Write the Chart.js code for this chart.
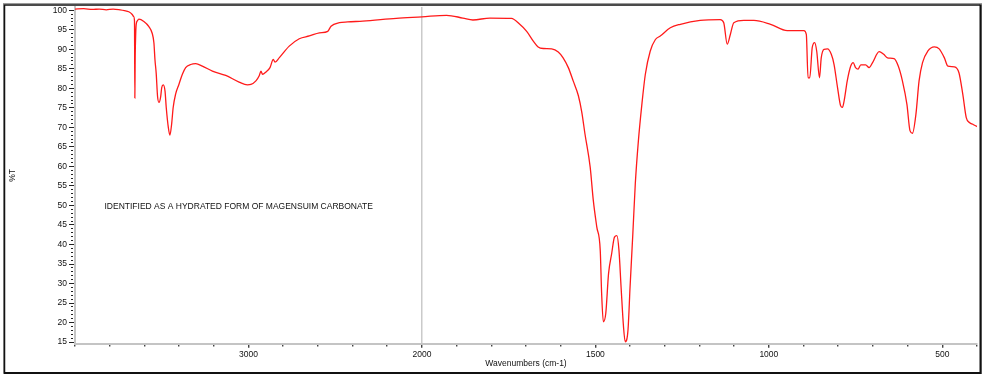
<!DOCTYPE html>
<html>
<head>
<meta charset="utf-8">
<script src="https://cdn.jsdelivr.net/npm/chart.js@4.4.1/dist/chart.umd.min.js"></script>
<style>
  html, body { margin: 0; padding: 0; background: #fff; }
  #wrap { width: 988px; height: 380px; }
</style>
</head>
<body>
<div id="wrap"><canvas id="c" width="988" height="380"></canvas></div>
<script>
// ---------------- data ----------------
const WAVENUMBERS = [
  4000, 3950, 3900, 3860, 3820, 3780, 3740, 3715, 3690, 3670, 3662, 3657, 3655, 3653, 3650, 3647, 3640, 3632,
  3603, 3574, 3555, 3545, 3539, 3532, 3524, 3516, 3506, 3500, 3491, 3481, 3474, 3462, 3453, 3443, 3434, 3420,
  3401, 3381, 3362, 3333, 3304, 3266, 3208, 3131, 3054, 3006, 2986, 2957, 2938, 2928, 2919,
  2899, 2876, 2857, 2847, 2823, 2765, 2707, 2649, 2591, 2543, 2524, 2476, 2428, 2341, 2148, 2000,
  1929, 1882, 1853, 1804, 1742, 1718, 1698, 1679, 1665, 1650, 1626, 1607, 1593, 1578, 1564,
  1549, 1539, 1530, 1515, 1506, 1496, 1486, 1482, 1477, 1470, 1462, 1453, 1445, 1438, 1432,
  1426, 1419, 1414, 1406, 1400, 1392, 1385, 1376, 1366, 1356, 1342, 1327, 1313, 1284, 1255,
  1198, 1140, 1130, 1120, 1111, 1101, 1072, 1043, 995, 947, 899, 892, 887, 882, 875,
  868, 862, 854, 849, 841, 831, 820, 812, 802, 793, 788, 783, 774, 764, 757,
  750, 743, 735, 721, 711, 701, 682, 669, 658, 639, 627, 615, 602, 593, 586,
  576, 567, 557, 542, 523, 509, 494, 484, 465, 452, 441, 431, 421, 412, 400
];
const TRANSMITTANCE = [
  100.3, 100.4, 100.2, 100.3, 100.1, 100.3, 100.1, 99.9, 99.6, 98.9, 98.4, 97.2, 77.5, 88.0, 94.0, 96.4, 97.3, 97.7,
  97.1, 95.8, 94.1, 91.6, 87.3, 83.9, 77.9, 76.4, 77.9, 80.2, 80.9, 79.3, 75.1, 70.0, 68.0, 70.8, 75.1, 78.5,
  81.0, 83.6, 85.3, 86.1, 86.3, 85.7, 84.4, 83.3, 81.6, 80.9, 81.0, 81.9, 83.2, 84.4, 83.6,
  84.2, 85.3, 87.4, 86.7, 87.8, 90.8, 92.7, 93.4, 94.2, 94.6, 95.9, 96.8, 97.0, 97.2, 97.9, 98.3,
  98.7, 98.0, 97.5, 98.0, 97.9, 96.4, 94.6, 92.1, 90.6, 90.2, 90.1, 89.3, 87.8, 85.3, 81.9,
  78.1, 73.8, 68.3, 59.8, 51.3, 44.5, 38.5, 27.5, 20.2, 22.4, 32.6, 37.7, 41.9, 42.3, 38.5,
  29.2, 19.0, 15.1, 18.1, 29.2, 42.8, 55.5, 66.6, 75.9, 83.6, 89.5, 92.5, 93.4, 95.5, 96.4,
  97.4, 97.6, 96.8, 91.3, 93.8, 96.8, 97.4, 97.4, 96.4, 94.8, 94.8, 93.8, 82.7, 82.7, 90.4,
  91.7, 89.5, 82.7, 87.8, 90.0, 90.1, 88.7, 86.1, 80.2, 75.5, 75.1, 76.8, 81.9, 85.7, 86.6,
  85.3, 84.9, 86.0, 86.0, 85.3, 86.6, 89.4, 88.7, 87.8, 87.6, 85.7, 81.9, 75.9, 69.1, 68.5,
  73.4, 81.9, 86.6, 89.5, 90.6, 90.1, 87.8, 85.7, 85.5, 84.0, 78.5, 72.5, 71.2, 70.8, 70.2
];

// axis ticks (wavenumber axis is expanded 2x below 2000 cm-1)
const X_BREAK = 2000;
const X_MIN = 400, X_MAX = 4000;
const X_TICKS_LOW = [400, 500, 600, 700, 800, 900, 1000, 1100, 1200, 1300, 1400, 1500, 1600, 1700, 1800, 1900, 2000];
const X_TICKS_HIGH = [2200, 2400, 2600, 2800, 3000, 3200, 3400, 3600, 3800, 4000];
const X_LABELLED = [500, 1000, 1500, 2000, 3000];
const Y_MIN = 14.6, Y_MAX = 100.8;
const Y_TICKS = Array.from({length: 86}, (_, i) => 15 + i);
const Y_LABEL_STEP = 5;

const X_TITLE = 'Wavenumbers (cm-1)';
const Y_TITLE = '%T';
const NOTE_TEXT = 'IDENTIFIED AS A HYDRATED FORM OF MAGENSUIM CARBONATE';
const NOTE_AT = {w: 3830, t: 49.8};

// ---------------- custom broken wavenumber scale ----------------
const toU = w => (w <= X_BREAK ? w : X_BREAK + (w - X_BREAK) / 2);
const fromU = u => (u <= X_BREAK ? u : X_BREAK + (u - X_BREAK) * 2);

class WavenumberScale extends Chart.LinearScale {
  static id = 'wavenumber';
  static defaults = Chart.LinearScale.defaults;
  buildTicks() {
    return X_TICKS_LOW.concat(X_TICKS_HIGH).map(v => ({value: v}));
  }
  configure() {
    super.configure();
    this._startValue = toU(this.min);
    this._endValue = toU(this.max);
    this._valueRange = this._endValue - this._startValue;
  }
  getPixelForValue(value) {
    if (value === null || value === undefined || isNaN(value)) return NaN;
    return this.getPixelForDecimal((toU(value) - this._startValue) / this._valueRange);
  }
  getValueForPixel(pixel) {
    return fromU(this._startValue + this.getDecimalForPixel(pixel) * this._valueRange);
  }
}
Chart.register(WavenumberScale);

const FONT = {family: '"Liberation Sans", Arial, sans-serif', size: 8.5};

const framePlugin = {
  id: 'frame',
  beforeDraw(chart) {
    const ctx = chart.ctx;
    ctx.save();
    ctx.fillStyle = '#fff';
    ctx.fillRect(0, 0, chart.width, chart.height);
    ctx.restore();
  },
  afterDraw(chart) {
    const ctx = chart.ctx;
    ctx.save();
    ctx.strokeStyle = '#9a9a9a';
    ctx.lineWidth = 1;
    ctx.strokeRect(3.5, 3.5, 978, 370);
    ctx.strokeStyle = '#111';
    ctx.lineWidth = 1.5;
    ctx.beginPath();
    ctx.moveTo(4.5, 373.2); ctx.lineTo(4.5, 5); ctx.lineTo(980.5, 5);
    ctx.stroke();
    ctx.lineWidth = 2;
    ctx.beginPath();
    ctx.moveTo(980.5, 4.5); ctx.lineTo(980.5, 373); ctx.lineTo(4, 373);
    ctx.stroke();
    // annotation text placed through the scales
    const x = chart.scales.x.getPixelForValue(NOTE_AT.w);
    const y = chart.scales.y.getPixelForValue(NOTE_AT.t);
    ctx.fillStyle = '#111';
    ctx.font = `${FONT.size}px ${FONT.family}`;
    ctx.textAlign = 'left';
    ctx.textBaseline = 'middle';
    ctx.fillText(NOTE_TEXT, x, y);
    ctx.restore();
  }
};

new Chart(document.getElementById('c'), {
  type: 'line',
  data: {
    datasets: [{
      data: WAVENUMBERS.map((w, i) => ({x: w, y: TRANSMITTANCE[i]})),
      borderColor: '#ff1a1a',
      borderWidth: 1.3,
      pointRadius: 0,
      cubicInterpolationMode: 'monotone',
      fill: false
    }]
  },
  options: {
    responsive: false,
    animation: false,
    events: [],
    layout: {padding: {left: 0, right: 11, top: 6, bottom: 0}},
    plugins: {legend: {display: false}, tooltip: {enabled: false}},
    scales: {
      x: {
        type: 'wavenumber',
        min: X_MIN,
        max: X_MAX,
        reverse: true,
        afterFit: s => { s.height = 36.3; },
        border: {color: '#c4c4c4', width: 2},
        grid: {
          drawOnChartArea: true,
          color: c => (c.tick && c.tick.value === X_BREAK ? '#cacaca' : 'rgba(0,0,0,0)'),
          lineWidth: 1.5,
          tickColor: '#222',
          tickLength: 4,
          tickWidth: 1.2,
          tickBorderDash: c => (c.tick && X_LABELLED.includes(c.tick.value) ? [] : [1.6, 10])
        },
        ticks: {
          autoSkip: false,
          maxRotation: 0,
          padding: 2,
          color: '#111',
          font: FONT,
          callback: v => (X_LABELLED.includes(v) ? String(v) : '')
        },
        title: {display: true, text: X_TITLE, color: '#111', font: FONT, padding: {top: 0, bottom: 11}}
      },
      y: {
        type: 'linear',
        min: Y_MIN,
        max: Y_MAX,
        afterBuildTicks: s => { s.ticks = Y_TICKS.map(v => ({value: v})); },
        afterFit: s => { s.width = 75; },
        border: {color: '#c4c4c4', width: 2},
        grid: {
          drawOnChartArea: false,
          tickColor: '#222',
          tickLength: 6,
          tickWidth: 1,
          tickBorderDash: c => (c.tick && c.tick.value % Y_LABEL_STEP === 0 ? [] : [2, 3]),
          tickBorderDashOffset: c => (c.tick && c.tick.value % Y_LABEL_STEP === 0 ? 0 : 3)
        },
        ticks: {
          autoSkip: false,
          padding: 2,
          color: '#111',
          font: FONT,
          callback: v => (v % Y_LABEL_STEP === 0 ? String(v) : '')
        },
        title: {display: true, text: Y_TITLE, color: '#111', font: FONT, padding: {top: 8, bottom: 0}}
      }
    }
  },
  plugins: [framePlugin]
});
</script>
</body>
</html>
